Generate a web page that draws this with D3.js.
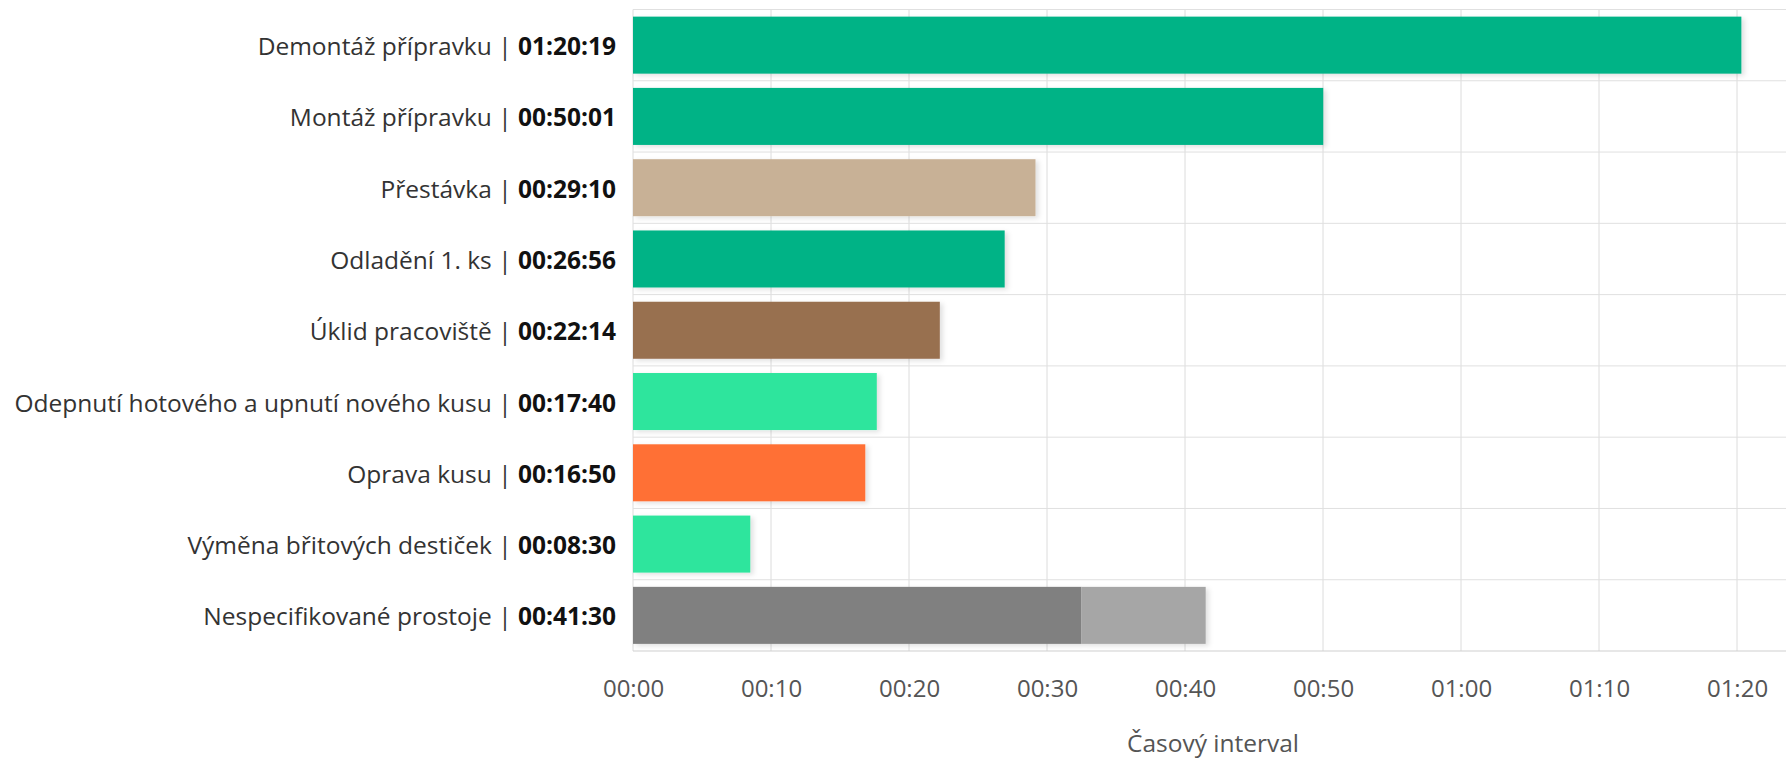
<!DOCTYPE html>
<html>
<head>
<meta charset="utf-8">
<script src="https://cdn.jsdelivr.net/npm/d3@7"></script>
<style>
  html, body { margin: 0; padding: 0; background: #fff; }
  svg { display: block; font-family: "Open Sans", "Noto Sans", sans-serif; }
</style>
</head>
<body>
<svg id="chart" width="1786" height="758"></svg>
<script>
// Activity names (top to bottom) and their durations in seconds
const categories = [
  "Demontáž přípravku",
  "Montáž přípravku",
  "Přestávka",
  "Odladění 1. ks",
  "Úklid pracoviště",
  "Odepnutí hotového a upnutí nového kusu",
  "Oprava kusu",
  "Výměna břitových destiček",
  "Nespecifikované prostoje"
];
const durations = [4819, 3001, 1750, 1616, 1334, 1060, 1010, 510, 2490];
const colors = ["#00b386", "#00b386", "#c8b196", "#00b386", "#986f4f", "#2ee59d", "#ff7035", "#2ee59d", "#808080"];

// Unspecified downtime is split into two stacked parts
const unspecifiedParts = [1950, 540];
const unspecifiedColors = ["#808080", "#a6a6a6"];

// X axis ticks in seconds (every 10 minutes)
const tickValues = [0, 600, 1200, 1800, 2400, 3000, 3600, 4200, 4800];
const axisTitle = "Časový interval";

const W = 1786, H = 758;
const left = 633;
const svg = d3.select("#chart");

const x = d3.scaleLinear().domain([0, 4800]).range([left, 1737]);
const y = d3.scaleBand().domain(categories).range([9.5, 651]).paddingInner(0.2).paddingOuter(0.1);

const fmtTick = s => {
  const m = Math.round(s / 60);
  return String(Math.floor(m / 60)).padStart(2, "0") + ":" + String(m % 60).padStart(2, "0");
};
const fmtDur = s => {
  const h = Math.floor(s / 3600), m = Math.floor((s % 3600) / 60), sec = s % 60;
  return [h, m, sec].map(v => String(v).padStart(2, "0")).join(":");
};

// Soft shadow under the bars
const defs = svg.append("defs");
const f = defs.append("filter").attr("id", "barShadow")
  .attr("x", "-5%").attr("y", "-20%").attr("width", "115%").attr("height", "150%");
f.append("feDropShadow").attr("dx", 3).attr("dy", 2).attr("stdDeviation", 2.5)
  .attr("flood-color", "#000").attr("flood-opacity", 0.12);

// Grid: vertical lines at ticks, horizontal lines at category boundaries
const grid = svg.append("g");
grid.selectAll("line.v").data(tickValues).join("line")
  .attr("x1", d => x(d)).attr("x2", d => x(d))
  .attr("y1", y.range()[0]).attr("y2", y.range()[1])
  .attr("stroke", "#dcdcdc").attr("stroke-width", 1);
const bounds = d3.range(categories.length + 1).map(i => y.range()[0] + i * y.step());
grid.selectAll("line.h").data(bounds).join("line")
  .attr("x1", left).attr("x2", W)
  .attr("y1", d => d).attr("y2", d => d)
  .attr("stroke", (d, i) => i === categories.length ? "#cfcfcf" : "#e0e0e0").attr("stroke-width", 1);

// Bars
const bars = svg.append("g").attr("filter", "url(#barShadow)");
categories.forEach((c, i) => {
  if (i === categories.length - 1) {
    let acc = 0;
    unspecifiedParts.forEach((v, j) => {
      bars.append("rect")
        .attr("x", x(acc)).attr("y", y(c))
        .attr("width", x(acc + v) - x(acc)).attr("height", y.bandwidth())
        .attr("fill", unspecifiedColors[j]);
      acc += v;
    });
  } else {
    bars.append("rect")
      .attr("x", x(0)).attr("y", y(c))
      .attr("width", x(durations[i]) - x(0)).attr("height", y.bandwidth())
      .attr("fill", colors[i]);
  }
});

// Category labels: name | duration
const labels = svg.append("g").attr("font-size", 24.5);
categories.forEach((c, i) => {
  const t = labels.append("text")
    .attr("x", 616).attr("y", y(c) + y.bandwidth() / 2)
    .attr("text-anchor", "end").attr("dominant-baseline", "central");
  t.append("tspan").attr("fill", "#333").text(c + " | ");
  t.append("tspan").attr("fill", "#111").attr("font-weight", "bold").text(fmtDur(durations[i]));
});

// X axis labels
const axis = d3.axisBottom(x).tickValues(tickValues).tickFormat(fmtTick).tickSize(0).tickPadding(0);
const ax = svg.append("g").attr("transform", "translate(0,680)").call(axis);
ax.select(".domain").remove();
ax.selectAll("text").attr("font-size", 24).attr("fill", "#555")
  .attr("font-family", "'Open Sans', 'Noto Sans', sans-serif").attr("dy", "0.71em");

// Axis title
svg.append("text").attr("x", 1213).attr("y", 752)
  .attr("text-anchor", "middle").attr("font-size", 24.5).attr("fill", "#555").text(axisTitle);
</script>
</body>
</html>
